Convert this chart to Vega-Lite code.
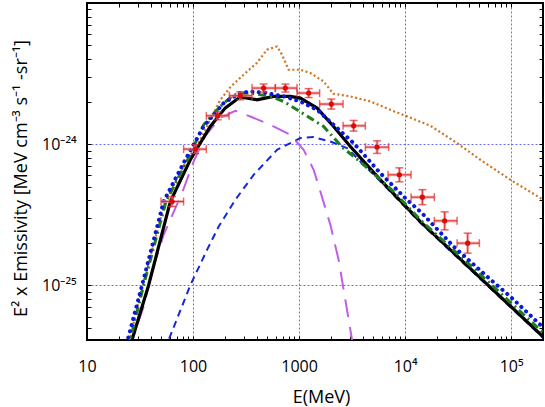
{
  "$schema": "https://vega.github.io/schema/vega-lite/v6.json",
  "width": 456,
  "height": 337,
  "autosize": "none",
  "padding": {"left": 87, "top": 3, "right": 2, "bottom": 67},
  "background": "white",
  "config": {
    "view": {"stroke": "black", "strokeWidth": 2},
    "font": "Open Sans"
  },
  "datasets": {
    "black": [
      {"E": 24.89, "Y": 3.475e-26}, {"E": 26.58, "Y": 4.093e-26}, {"E": 38.11, "Y": 1.0e-25},
      {"E": 61.09, "Y": 3.917e-25}, {"E": 94.3, "Y": 7.745e-25}, {"E": 145.5, "Y": 1.334e-24},
      {"E": 201.8, "Y": 1.807e-24}, {"E": 279.3, "Y": 2.163e-24}, {"E": 401.8, "Y": 2.061e-24},
      {"E": 575.4, "Y": 2.178e-24}, {"E": 827.9, "Y": 2.178e-24}, {"E": 1028, "Y": 2.118e-24},
      {"E": 1479, "Y": 1.799e-24}, {"E": 2118, "Y": 1.334e-24}, {"E": 3048, "Y": 9.616e-25},
      {"E": 5848, "Y": 5.585e-25}, {"E": 13930, "Y": 2.825e-25}, {"E": 53030, "Y": 1.101e-25},
      {"E": 201700, "Y": 4.295e-26}
    ],
    "bluedot": [
      {"E": 22.83, "Y": 3.48e-26}, {"E": 24.15, "Y": 4.09e-26}, {"E": 33.04, "Y": 1.0e-25},
      {"E": 52.8, "Y": 3.92e-25}, {"E": 84.53, "Y": 7.74e-25}, {"E": 125.9, "Y": 1.334e-24},
      {"E": 194.5, "Y": 1.954e-24}, {"E": 279.3, "Y": 2.301e-24}, {"E": 347.2, "Y": 2.36e-24},
      {"E": 498.9, "Y": 2.301e-24}, {"E": 716.1, "Y": 2.178e-24}, {"E": 1028, "Y": 2.005e-24},
      {"E": 1479, "Y": 1.75e-24}, {"E": 2118, "Y": 1.371e-24}, {"E": 3273, "Y": 1.016e-24},
      {"E": 5848, "Y": 6.22e-25}, {"E": 10450, "Y": 4.03e-25}, {"E": 14450, "Y": 3.24e-25},
      {"E": 28740, "Y": 1.879e-25}, {"E": 59430, "Y": 1.151e-25}, {"E": 98400, "Y": 8.3e-26},
      {"E": 201700, "Y": 5.0e-26}
    ],
    "green": [
      {"E": 24.32, "Y": 3.48e-26}, {"E": 25.62, "Y": 4.09e-26}, {"E": 34.2, "Y": 1.0e-25},
      {"E": 55.6, "Y": 3.92e-25}, {"E": 88.9, "Y": 7.74e-25}, {"E": 125.9, "Y": 1.371e-24},
      {"E": 180.9, "Y": 1.849e-24}, {"E": 241.5, "Y": 2.239e-24}, {"E": 347.2, "Y": 2.301e-24},
      {"E": 535.8, "Y": 2.178e-24}, {"E": 716.1, "Y": 2.005e-24}, {"E": 957.2, "Y": 1.75e-24},
      {"E": 1278, "Y": 1.528e-24}, {"E": 1706, "Y": 1.334e-24}, {"E": 2545, "Y": 9.53e-25},
      {"E": 3784, "Y": 7.49e-25}, {"E": 7808, "Y": 4.61e-25}, {"E": 13930, "Y": 2.904e-25},
      {"E": 53030, "Y": 1.164e-25}, {"E": 201700, "Y": 4.59e-26}
    ],
    "orange": [
      {"E": 23.93, "Y": 3.48e-26}, {"E": 25.23, "Y": 4.09e-26}, {"E": 33.45, "Y": 1.0e-25},
      {"E": 54.79, "Y": 3.92e-25}, {"E": 88.31, "Y": 7.74e-25}, {"E": 117.2, "Y": 1.073e-24},
      {"E": 145.5, "Y": 1.486e-24}, {"E": 180.9, "Y": 2.061e-24}, {"E": 227.8, "Y": 2.561e-24},
      {"E": 299.9, "Y": 3.101e-24}, {"E": 401.6, "Y": 3.772e-24}, {"E": 498.9, "Y": 4.667e-24},
      {"E": 620.2, "Y": 4.92e-24}, {"E": 691.4, "Y": 4.298e-24}, {"E": 798, "Y": 3.365e-24},
      {"E": 1028, "Y": 3.365e-24}, {"E": 1278, "Y": 3.187e-24}, {"E": 1706, "Y": 2.78e-24},
      {"E": 2107, "Y": 2.275e-24}, {"E": 3048, "Y": 2.178e-24}, {"E": 4706, "Y": 2.005e-24},
      {"E": 7261, "Y": 1.75e-24}, {"E": 10070, "Y": 1.589e-24}, {"E": 17340, "Y": 1.349e-24},
      {"E": 30950, "Y": 1.016e-24}, {"E": 51330, "Y": 7.745e-25}, {"E": 98490, "Y": 5.585e-25},
      {"E": 201700, "Y": 4.027e-25}
    ],
    "purple": [
      {"E": 24.63, "Y": 3.48e-26}, {"E": 26.58, "Y": 4.09e-26}, {"E": 34.2, "Y": 7.047e-26},
      {"E": 41.02, "Y": 1.249e-25}, {"E": 52.8, "Y": 2.275e-25}, {"E": 78.7, "Y": 4.492e-25},
      {"E": 101.3, "Y": 7.523e-25}, {"E": 130.6, "Y": 1.146e-24}, {"E": 180.9, "Y": 1.536e-24},
      {"E": 250.6, "Y": 1.722e-24}, {"E": 347.2, "Y": 1.57e-24}, {"E": 535.8, "Y": 1.371e-24},
      {"E": 827.9, "Y": 1.164e-24}, {"E": 1105, "Y": 9.12e-25}, {"E": 1373, "Y": 6.577e-25},
      {"E": 1589, "Y": 4.613e-25}, {"E": 1974, "Y": 2.679e-25}, {"E": 2363, "Y": 1.511e-25},
      {"E": 2734, "Y": 7.87e-26}, {"E": 3162, "Y": 4.09e-26}, {"E": 3253, "Y": 3.48e-26}
    ],
    "bluedash": [
      {"E": 54.08, "Y": 3.48e-26}, {"E": 58.88, "Y": 4.09e-26}, {"E": 94.3, "Y": 1.0e-25},
      {"E": 135.5, "Y": 1.778e-25}, {"E": 174.4, "Y": 2.603e-25}, {"E": 250.6, "Y": 4.03e-25},
      {"E": 373.0, "Y": 6.057e-25}, {"E": 620.2, "Y": 9.112e-25}, {"E": 1028, "Y": 1.103e-24},
      {"E": 1373, "Y": 1.121e-24}, {"E": 1974, "Y": 1.043e-24}, {"E": 2837, "Y": 9.368e-25},
      {"E": 5848, "Y": 5.448e-25}, {"E": 13930, "Y": 2.767e-25}, {"E": 201700, "Y": 4.227e-26}
    ],
    "pts": [
      {"E": 63.4, "Y": 3.916e-25, "xLo": 49.9, "xHi": 81.5, "yLo": 3.609e-25, "yHi": 4.25e-25},
      {"E": 105.1, "Y": 9.215e-25, "xLo": 81.5, "xHi": 133.5, "yLo": 8.563e-25, "yHi": 9.917e-25},
      {"E": 170.7, "Y": 1.587e-24, "xLo": 133.5, "xHi": 218.6, "yLo": 1.487e-24, "yHi": 1.695e-24},
      {"E": 279.3, "Y": 2.201e-24, "xLo": 220.0, "xHi": 360.2, "yLo": 2.062e-24, "yHi": 2.35e-24},
      {"E": 463.4, "Y": 2.495e-24, "xLo": 360.2, "xHi": 597.5, "yLo": 2.338e-24, "yHi": 2.665e-24},
      {"E": 742.9, "Y": 2.495e-24, "xLo": 597.5, "xHi": 957.4, "yLo": 2.338e-24, "yHi": 2.665e-24},
      {"E": 1232, "Y": 2.3e-24, "xLo": 957.4, "xHi": 1564, "yLo": 2.137e-24, "yHi": 2.475e-24},
      {"E": 2017, "Y": 1.922e-24, "xLo": 1564, "xHi": 2601, "yLo": 1.771e-24, "yHi": 2.085e-24},
      {"E": 3274, "Y": 1.348e-24, "xLo": 2601, "xHi": 4222, "yLo": 1.236e-24, "yHi": 1.471e-24},
      {"E": 5443, "Y": 9.521e-25, "xLo": 4222, "xHi": 7003, "yLo": 8.59e-25, "yHi": 1.055e-24},
      {"E": 8835, "Y": 6.057e-25, "xLo": 6912, "xHi": 11390, "yLo": 5.404e-25, "yHi": 6.79e-25},
      {"E": 14560, "Y": 4.208e-25, "xLo": 11390, "xHi": 18900, "yLo": 3.723e-25, "yHi": 4.756e-25},
      {"E": 23640, "Y": 2.858e-25, "xLo": 18900, "xHi": 30950, "yLo": 2.467e-25, "yHi": 3.31e-25},
      {"E": 38960, "Y": 1.986e-25, "xLo": 30950, "xHi": 50230, "yLo": 1.687e-25, "yHi": 2.338e-25}
    ]
  },
  "resolve": {"axis": {"x": "independent", "y": "independent"}},
  "layer": [
    {
      "data": {"name": "bluedash"},
      "mark": {"type": "line", "clip": true, "color": "#1428d8", "strokeWidth": 2, "strokeDash": [7, 5]},
      "encoding": {
        "x": {
          "field": "E", "type": "quantitative",
          "scale": {"type": "log", "domain": [10, 200000], "nice": false},
          "axis": {
            "orient": "bottom",
            "values": [10,20,30,40,50,60,70,80,90,100,200,300,400,500,600,700,800,900,1000,2000,3000,4000,5000,6000,7000,8000,9000,10000,20000,30000,40000,50000,60000,70000,80000,90000,100000,200000],
            "labelExpr": "datum.value == 10 ? '10' : datum.value == 100 ? '100' : datum.value == 1000 ? '1000' : datum.value == 10000 ? '10⁴' : datum.value == 100000 ? '10⁵' : ''",
            "labelFont": "Open Sans", "labelFontSize": 16, "labelColor": "black",
            "labelPadding": 22, "labelOverlap": false, "labelFlush": false,
            "tickSize": -4, "tickColor": "black", "tickWidth": 1,
            "domain": false,
            "grid": true, "gridColor": "#6a6af0", "gridDash": [2, 2], "gridWidth": 1,
            "gridOpacity": {"condition": {"test": "datum.value == 100 || datum.value == 1000 || datum.value == 10000 || datum.value == 100000", "value": 1}, "value": 0},
            "title": "E(MeV)", "titleFont": "Open Sans", "titleFontSize": 18, "titleFontWeight": "normal", "titleColor": "black",
            "titleX": 234, "titleY": 62, "titleAlign": "center", "titleBaseline": "alphabetic"
          }
        },
        "y": {
          "field": "Y", "type": "quantitative",
          "scale": {"type": "log", "domain": [4.09e-26, 1e-23], "nice": false},
          "axis": {
            "orient": "left",
            "values": [5e-26,6e-26,7e-26,8e-26,9e-26,1e-25,2e-25,3e-25,4e-25,5e-25,6e-25,7e-25,8e-25,9e-25,1e-24,2e-24,3e-24,4e-24,5e-24,6e-24,7e-24,8e-24,9e-24,1e-23],
            "labelExpr": "datum.value == 1e-24 ? '10⁻²⁴' : datum.value == 1e-25 ? '10⁻²⁵' : ''",
            "labelFont": "Open Sans", "labelFontSize": 16, "labelColor": "black",
            "labelPadding": 15, "labelOverlap": false, "labelFlush": false,
            "tickSize": -4, "tickColor": "black", "tickWidth": 1,
            "domain": false,
            "grid": true, "gridColor": "#6a6af0", "gridDash": [2, 2], "gridWidth": 1,
            "gridOpacity": {"condition": {"test": "datum.value == 1e-24 || datum.value == 1e-25", "value": 1}, "value": 0},
            "title": "E² x Emissivity [MeV cm⁻³ s⁻¹ -sr⁻¹]", "titleFont": "Open Sans", "titleFontSize": 18, "titleFontWeight": "normal", "titleColor": "black",
            "titleAngle": 270, "titleX": -61, "titleY": 175, "titleAlign": "center", "titleBaseline": "alphabetic"
          }
        }
      }
    },
    {
      "data": {"name": "purple"},
      "mark": {"type": "line", "clip": true, "color": "#c05ee6", "strokeWidth": 2, "strokeDash": [18, 10]},
      "encoding": {
        "x": {"field": "E", "type": "quantitative", "scale": {"type": "log", "domain": [10, 200000], "nice": false}, "axis": null},
        "y": {"field": "Y", "type": "quantitative", "scale": {"type": "log", "domain": [4.09e-26, 1e-23], "nice": false}, "axis": null}
      }
    },
    {
      "data": {"name": "orange"},
      "mark": {"type": "line", "clip": true, "color": "#d0741e", "strokeWidth": 2.2, "strokeDash": [2, 2.5]},
      "encoding": {
        "x": {"field": "E", "type": "quantitative", "scale": {"type": "log", "domain": [10, 200000], "nice": false}, "axis": null},
        "y": {"field": "Y", "type": "quantitative", "scale": {"type": "log", "domain": [4.09e-26, 1e-23], "nice": false}, "axis": null}
      }
    },
    {
      "data": {"name": "black"},
      "mark": {"type": "line", "clip": true, "color": "black", "strokeWidth": 3.2},
      "encoding": {
        "x": {"field": "E", "type": "quantitative", "scale": {"type": "log", "domain": [10, 200000], "nice": false}, "axis": null},
        "y": {"field": "Y", "type": "quantitative", "scale": {"type": "log", "domain": [4.09e-26, 1e-23], "nice": false}, "axis": null}
      }
    },
    {
      "data": {"name": "green"},
      "mark": {"type": "line", "clip": true, "color": "#1e7d1e", "strokeWidth": 3, "strokeDash": [8, 4, 2, 4]},
      "encoding": {
        "x": {"field": "E", "type": "quantitative", "scale": {"type": "log", "domain": [10, 200000], "nice": false}, "axis": null},
        "y": {"field": "Y", "type": "quantitative", "scale": {"type": "log", "domain": [4.09e-26, 1e-23], "nice": false}, "axis": null}
      }
    },
    {
      "data": {"name": "bluedot"},
      "mark": {"type": "line", "clip": true, "color": "#0a18dc", "strokeWidth": 4, "strokeCap": "round", "strokeDash": [0.1, 6.3]},
      "encoding": {
        "x": {"field": "E", "type": "quantitative", "scale": {"type": "log", "domain": [10, 200000], "nice": false}, "axis": null},
        "y": {"field": "Y", "type": "quantitative", "scale": {"type": "log", "domain": [4.09e-26, 1e-23], "nice": false}, "axis": null}
      }
    },
    {
      "data": {"name": "pts"},
      "mark": {"type": "rule", "color": "#f08a8a", "strokeWidth": 3, "opacity": 0.7},
      "encoding": {
        "x": {"field": "xLo", "type": "quantitative", "scale": {"type": "log", "domain": [10, 200000], "nice": false}, "axis": null},
        "x2": {"field": "xHi"},
        "y": {"field": "Y", "type": "quantitative", "scale": {"type": "log", "domain": [4.09e-26, 1e-23], "nice": false}, "axis": null}
      }
    },
    {
      "data": {"name": "pts"},
      "mark": {"type": "rule", "color": "#f08a8a", "strokeWidth": 3, "opacity": 0.7},
      "encoding": {
        "x": {"field": "E", "type": "quantitative", "scale": {"type": "log", "domain": [10, 200000], "nice": false}, "axis": null},
        "y": {"field": "yLo", "type": "quantitative", "scale": {"type": "log", "domain": [4.09e-26, 1e-23], "nice": false}, "axis": null},
        "y2": {"field": "yHi"}
      }
    },
    {
      "data": {"name": "pts"},
      "mark": {"type": "rule", "color": "#e02a2a", "strokeWidth": 1},
      "encoding": {
        "x": {"field": "xLo", "type": "quantitative", "scale": {"type": "log", "domain": [10, 200000], "nice": false}, "axis": null},
        "x2": {"field": "xHi"},
        "y": {"field": "Y", "type": "quantitative", "scale": {"type": "log", "domain": [4.09e-26, 1e-23], "nice": false}, "axis": null}
      }
    },
    {
      "data": {"name": "pts"},
      "mark": {"type": "rule", "color": "#e02a2a", "strokeWidth": 1},
      "encoding": {
        "x": {"field": "E", "type": "quantitative", "scale": {"type": "log", "domain": [10, 200000], "nice": false}, "axis": null},
        "y": {"field": "yLo", "type": "quantitative", "scale": {"type": "log", "domain": [4.09e-26, 1e-23], "nice": false}, "axis": null},
        "y2": {"field": "yHi"}
      }
    },
    {
      "data": {"name": "pts"},
      "mark": {"type": "tick", "orient": "vertical", "color": "#e02a2a", "size": 8, "thickness": 1.5},
      "encoding": {
        "x": {"field": "xLo", "type": "quantitative", "scale": {"type": "log", "domain": [10, 200000], "nice": false}, "axis": null},
        "y": {"field": "Y", "type": "quantitative", "scale": {"type": "log", "domain": [4.09e-26, 1e-23], "nice": false}, "axis": null}
      }
    },
    {
      "data": {"name": "pts"},
      "mark": {"type": "tick", "orient": "vertical", "color": "#e02a2a", "size": 8, "thickness": 1.5},
      "encoding": {
        "x": {"field": "xHi", "type": "quantitative", "scale": {"type": "log", "domain": [10, 200000], "nice": false}, "axis": null},
        "y": {"field": "Y", "type": "quantitative", "scale": {"type": "log", "domain": [4.09e-26, 1e-23], "nice": false}, "axis": null}
      }
    },
    {
      "data": {"name": "pts"},
      "mark": {"type": "tick", "orient": "horizontal", "color": "#e02a2a", "size": 8, "thickness": 1.5},
      "encoding": {
        "x": {"field": "E", "type": "quantitative", "scale": {"type": "log", "domain": [10, 200000], "nice": false}, "axis": null},
        "y": {"field": "yLo", "type": "quantitative", "scale": {"type": "log", "domain": [4.09e-26, 1e-23], "nice": false}, "axis": null}
      }
    },
    {
      "data": {"name": "pts"},
      "mark": {"type": "tick", "orient": "horizontal", "color": "#e02a2a", "size": 8, "thickness": 1.5},
      "encoding": {
        "x": {"field": "E", "type": "quantitative", "scale": {"type": "log", "domain": [10, 200000], "nice": false}, "axis": null},
        "y": {"field": "yHi", "type": "quantitative", "scale": {"type": "log", "domain": [4.09e-26, 1e-23], "nice": false}, "axis": null}
      }
    },
    {
      "data": {"name": "pts"},
      "mark": {"type": "point", "shape": "circle", "filled": true, "color": "#dd0a0a", "size": 28, "opacity": 1},
      "encoding": {
        "x": {
          "field": "E", "type": "quantitative",
          "scale": {"type": "log", "domain": [10, 200000], "nice": false},
          "axis": {
            "orient": "top",
            "values": [10,20,30,40,50,60,70,80,90,100,200,300,400,500,600,700,800,900,1000,2000,3000,4000,5000,6000,7000,8000,9000,10000,20000,30000,40000,50000,60000,70000,80000,90000,100000,200000],
            "labels": false, "domain": false, "grid": false, "title": null,
            "tickSize": -4, "tickColor": "black", "tickWidth": 1
          }
        },
        "y": {
          "field": "Y", "type": "quantitative",
          "scale": {"type": "log", "domain": [4.09e-26, 1e-23], "nice": false},
          "axis": {
            "orient": "right",
            "values": [5e-26,6e-26,7e-26,8e-26,9e-26,1e-25,2e-25,3e-25,4e-25,5e-25,6e-25,7e-25,8e-25,9e-25,1e-24,2e-24,3e-24,4e-24,5e-24,6e-24,7e-24,8e-24,9e-24,1e-23],
            "labels": false, "domain": false, "grid": false, "title": null,
            "tickSize": -4, "tickColor": "black", "tickWidth": 1
          }
        }
      }
    }
  ]
}
